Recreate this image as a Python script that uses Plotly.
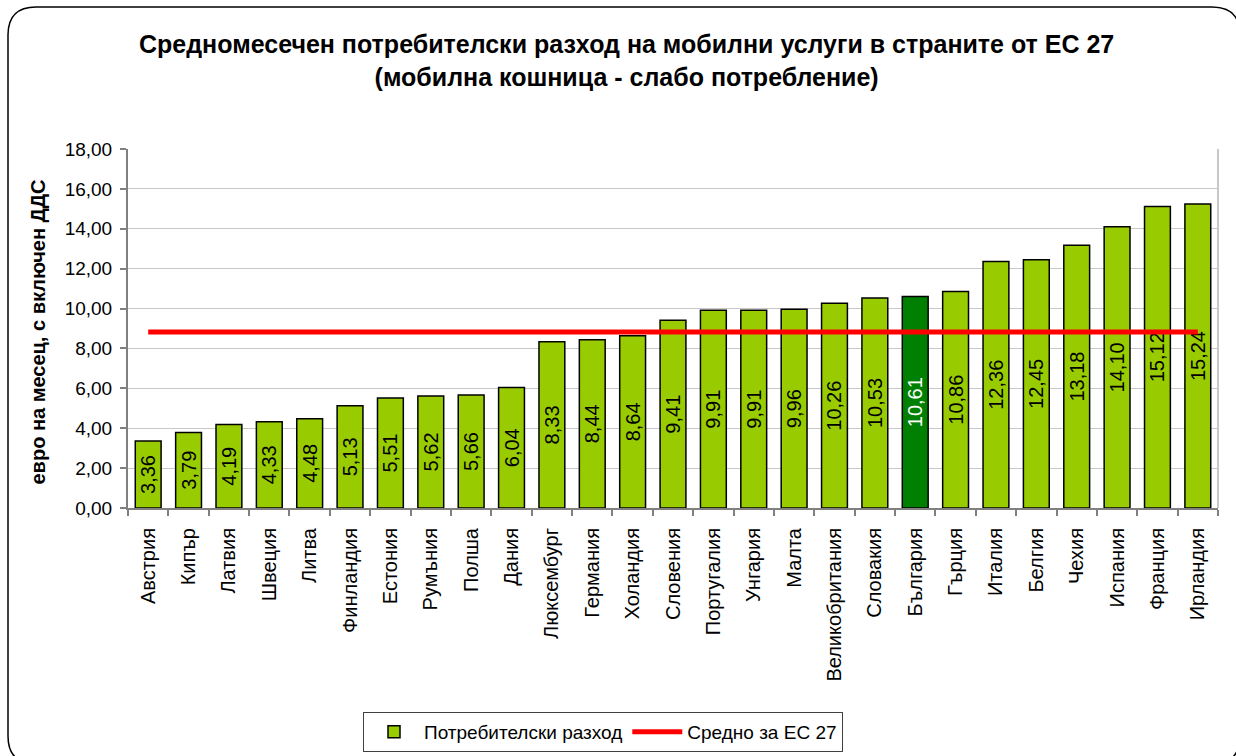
import plotly.graph_objects as go

countries = ["Австрия", "Кипър", "Латвия", "Швеция", "Литва", "Финландия", "Естония",
             "Румъния", "Полша", "Дания", "Люксембург", "Германия", "Холандия", "Словения",
             "Португалия", "Унгария", "Малта", "Великобритания", "Словакия", "България",
             "Гърция", "Италия", "Белгия", "Чехия", "Испания", "Франция", "Ирландия"]
spend = [3.36, 3.79, 4.19, 4.33, 4.48, 5.13, 5.51, 5.62, 5.66, 6.04, 8.33, 8.44, 8.64, 9.41,
         9.91, 9.91, 9.96, 10.26, 10.53, 10.61, 10.86, 12.36, 12.45, 13.18, 14.10, 15.12, 15.24]
eu_avg = 8.83
highlight = "България"

W, H = 1236, 756
L, R, T, B = 128, 18, 149, 248
PW, PH = W - L - R, H - T - B


def px(x):
    return (x - L) / PW


def py(y):
    return (H - B - y) / PH


bar_colors = ["#008000" if c == highlight else "#99CC00" for c in countries]
text_colors = ["#FFFFFF" if c == highlight else "#000000" for c in countries]

fig = go.Figure()
fig.add_trace(go.Bar(
    x=countries, y=spend, name="Потребителски разход",
    marker=dict(color=bar_colors, line=dict(color="#000000", width=1.5)),
    width=0.64,
    texttemplate="%{y:.2f}", textposition="inside", textangle=-90,
    insidetextanchor="middle",
    textfont=dict(family="Liberation Sans, Arial", size=20, color=text_colors),
    constraintext="none",
))
fig.add_trace(go.Scatter(
    x=countries, y=[eu_avg] * len(countries), name="Средно за ЕС 27",
    mode="lines", line=dict(color="#FF0000", width=5),
))

# rounded outer frame
x0, y0, x1, y1, r = px(8), py(7), px(1240), py(764), 28
rx, ry = r / PW, r / PH
path = (f"M {x0+rx} {y0} L {x1-rx} {y0} Q {x1} {y0} {x1} {y0-ry} "
        f"L {x1} {y1+ry} Q {x1} {y1} {x1-rx} {y1} L {x0+rx} {y1} "
        f"Q {x0} {y1} {x0} {y1+ry} L {x0} {y0-ry} Q {x0} {y0} {x0+rx} {y0} Z")

fig.update_layout(
    width=W, height=H,
    margin=dict(l=L, r=R, t=T, b=B, autoexpand=False),
    paper_bgcolor="white", plot_bgcolor="white",
    separators=", ",
    font=dict(family="Liberation Sans, Arial", color="#000000"),
    title=dict(
        text="<b>Средномесечен потребителски разход на мобилни услуги в страните от ЕС 27<br>(мобилна кошница - слабо потребление)</b>",
        x=0.507, xref="container", xanchor="center", y=1 - 53 / H, yref="container", yanchor="top",
        font=dict(size=25, family="Liberation Sans, Arial"),
    ),
    showlegend=True,
    legend=dict(
        orientation="h", x=px(603), xanchor="center", y=py(712), yanchor="top",
        bordercolor="#404040", borderwidth=1, bgcolor="white",
        font=dict(size=19), traceorder="normal", itemwidth=50,
    ),
    xaxis=dict(
        type="category", showline=True, linecolor="#808080", linewidth=2,
        ticks="outside", tickson="boundaries", ticklen=6, tickcolor="#808080", tickwidth=2,
        tickangle=-90, tickfont=dict(size=20), showgrid=False, ticklabelstandoff=10,
        range=[-0.5, len(countries) - 0.5], automargin=False,
    ),
    yaxis=dict(
        range=[0, 18], dtick=2, tickformat=".2f",
        showline=True, linecolor="#808080", linewidth=2,
        ticks="outside", ticklen=6, tickcolor="#808080", tickwidth=2,
        showgrid=True, gridcolor="#C8C8C8", gridwidth=1, ticklabelstandoff=4,
        tickfont=dict(size=19), zeroline=False, automargin=False,
    ),
    annotations=[
        dict(text="<b>евро на месец, с включен ДДС</b>", xref="paper", yref="paper",
             x=px(37), y=py(487), xanchor="center", yanchor="bottom", textangle=-90,
             showarrow=False, font=dict(size=20)),
    ],
    shapes=[
        dict(type="line", xref="paper", yref="paper", x0=1, x1=1, y0=0, y1=1,
             line=dict(color="#C8C8C8", width=2)),
        dict(type="path", xref="paper", yref="paper", path=path,
             line=dict(color="#000000", width=1.5), fillcolor="rgba(0,0,0,0)", layer="below"),
    ],
)

fig.write_html("out.html", config={"displayModeBar": False},
               post_script="document.body.style.margin='0';")
